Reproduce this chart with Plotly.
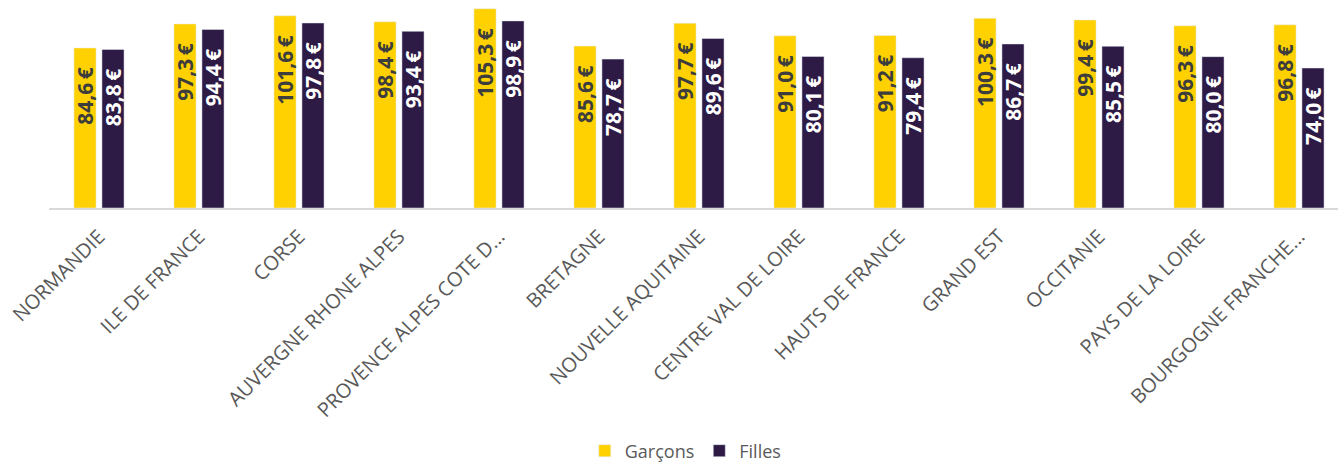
import plotly.graph_objects as go

regions = ["NORMANDIE", "ILE DE FRANCE", "CORSE", "AUVERGNE RHONE ALPES",
           "PROVENCE ALPES COTE D...", "BRETAGNE", "NOUVELLE AQUITAINE",
           "CENTRE VAL DE LOIRE", "HAUTS DE FRANCE", "GRAND EST", "OCCITANIE",
           "PAYS DE LA LOIRE", "BOURGOGNE FRANCHE..."]
garcons = [84.6, 97.3, 101.6, 98.4, 105.3, 85.6, 97.7, 91.0, 91.2, 100.3, 99.4, 96.3, 96.8]
filles = [83.8, 94.4, 97.8, 93.4, 98.9, 78.7, 89.6, 80.1, 79.4, 86.7, 85.5, 80.0, 74.0]

YELLOW = "#FFD100"
PURPLE = "#2D1A45"
FONT = "Open Sans"

fig = go.Figure()
fig.add_trace(go.Bar(
    name="Garçons", x=regions, y=garcons, marker_color=YELLOW,
    texttemplate="%{y:.1f}\u2009€\u00a0\u00a0\u00a0", textposition="inside",
    insidetextanchor="end", textangle=-90,
    textfont=dict(family=FONT, size=21, color="#3D3D3D", weight="bold"),
))
fig.add_trace(go.Bar(
    name="Filles", x=regions, y=filles, marker_color=PURPLE,
    texttemplate="%{y:.1f}\u2009€\u00a0\u00a0\u00a0", textposition="inside",
    insidetextanchor="end", textangle=-90,
    textfont=dict(family=FONT, size=21, color="#FFFFFF", weight="bold"),
))

fig.update_layout(
    width=1338, height=463,
    margin=dict(l=49, r=0, t=5, b=255, autoexpand=False),
    separators=", ",
    barmode="group", bargap=0.44, bargroupgap=0.21,
    plot_bgcolor="white", paper_bgcolor="white",
    uniformtext=dict(minsize=21, mode="show"),
    font=dict(family=FONT, color="#595959"),
    legend=dict(orientation="h", x=0.494, xanchor="center", y=-1.197, yanchor="middle",
                font=dict(family=FONT, size=18, color="#595959")),
    showlegend=True,
)
fig.update_xaxes(
    range=[-0.5, 12.39], showline=True, linecolor="#D9D9D9", linewidth=2,
    tickangle=-45, tickfont=dict(family=FONT, size=20, color="#595959"),
    ticks="outside", ticklen=7, tickcolor="rgba(0,0,0,0)", showgrid=False,
    automargin=False,
)
fig.update_yaxes(range=[0, 107.3], showticklabels=False, showgrid=False,
                 zeroline=False, showline=False, automargin=False)

fig.write_html("out.html", config={"displayModeBar": False},
               post_script="document.body.style.margin='0';document.body.style.overflow='hidden';")
